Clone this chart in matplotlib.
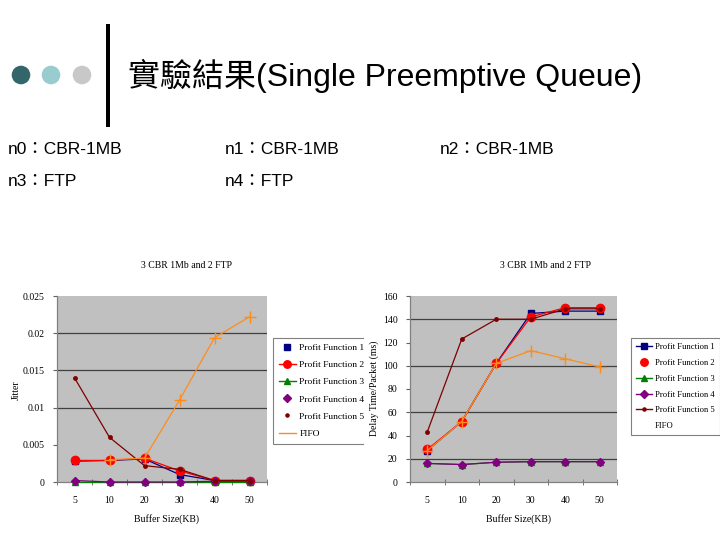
import numpy as np
import matplotlib
matplotlib.use("Agg")
import matplotlib.pyplot as plt
from matplotlib.lines import Line2D
from matplotlib.patches import Circle, Rectangle

# ---------------- data ----------------
buffer_labels = ['5', '10', '20', '30', '40', '50']
series_names = ['Profit Function 1', 'Profit Function 2', 'Profit Function 3',
                'Profit Function 4', 'Profit Function 5', 'FIFO']

jitter_pf1 = [0.0028, 0.0029, 0.0031, 0.0010, 0.0002, 0.0002]
jitter_pf2 = [0.0029, 0.0029, 0.0032, 0.0015, 0.0002, 0.0002]
jitter_pf3 = [0.0000, 0.0000, 0.0000, 0.0000, 0.0000, 0.0000]
jitter_pf4 = [0.0002, 0.0000, 0.0000, 0.0000, 0.0001, 0.0001]
jitter_pf5 = [0.0140, 0.0060, 0.0022, 0.0017, 0.0002, 0.0002]
jitter_fifo = [np.nan, 0.0030, 0.0032, 0.0110, 0.0194, 0.0222]

delay_pf1 = [27, 52, 102, 145, 147, 147]
delay_pf2 = [28, 52, 102, 142, 150, 150]
delay_pf3 = [16, 15, 17, 17.5, 17.5, 17.5]
delay_pf4 = [16, 15, 17, 17.5, 17.5, 17.5]
delay_pf5 = [43, 123, 140, 140, 149, 149]
delay_fifo = [27, 52, 102, 113, 106, 99]

jitter_ticks = [0, 0.005, 0.01, 0.015, 0.02, 0.025]
jitter_ticklabels = ['0', '0.005', '0.01', '0.015', '0.02', '0.025']
delay_ticks = [0, 20, 40, 60, 80, 100, 120, 140, 160]

chart_title = '3 CBR 1Mb and 2 FTP'
x_label = 'Buffer Size(KB)'
slide_title = '實驗結果(Single Preemptive Queue)'
node_lines = [['n0：CBR-1MB', 'n1：CBR-1MB', 'n2：CBR-1MB'],
              ['n3：FTP', 'n4：FTP']]

# ---------------- styles ----------------
W, H = 720, 540
colors = ['#000080', '#FF0000', '#008000', '#800080', '#800000', '#FF8C1A']
markers = ['s', 'o', '^', 'D', 'o', '+']
msizes = [4.5, 6, 5, 4.5, 2.5, 9]
SERIF = 'Liberation Serif'

fig = plt.figure(figsize=(W / 100, H / 100), dpi=100)
fig.patch.set_facecolor('white')


def box(l, t, r, b):
    return [l / W, 1 - b / H, (r - l) / W, (b - t) / H]


# slide decoration layer
deco = fig.add_axes([0, 0, 1, 1], zorder=0)
deco.set_xlim(0, W)
deco.set_ylim(H, 0)
deco.axis('off')
for cx, c in zip([21, 51, 82], ['#33666A', '#99CCCE', '#C8C8C8']):
    deco.add_patch(Circle((cx, 75), 9.3, color=c, lw=0))
deco.add_patch(Rectangle((106, 24), 4, 103, color='black', lw=0))
deco.text(128, 76, slide_title, fontsize=23, va='center', ha='left',
          family=['Liberation Sans', 'Noto Sans CJK TC'])
row_y = [150, 182]
col_x = [8, 225, 440]
for ry, row in zip(row_y, node_lines):
    for cx, t in zip(col_x, row):
        deco.text(cx, ry, t, fontsize=12.5, va='center', ha='left',
                  family=['Liberation Sans', 'Noto Sans CJK TC'])


def style_axes(ax, ticks, ticklabels, ylim):
    ax.set_facecolor('#C0C0C0')
    x = np.arange(len(buffer_labels))
    ax.set_xlim(-0.5, len(buffer_labels) - 0.5)
    ax.set_ylim(*ylim)
    ax.set_xticks(x)
    ax.set_xticklabels(buffer_labels, family=SERIF, fontsize=7)
    ax.set_xticks(np.arange(len(buffer_labels) + 1) - 0.5, minor=True)
    ax.tick_params(axis='x', which='major', length=0, pad=10)
    ax.tick_params(axis='x', which='minor', length=4, direction='inout', color='#606060')
    ax.set_yticks(ticks)
    ax.set_yticklabels(ticklabels, family=SERIF, fontsize=7)
    ax.tick_params(axis='y', length=3, direction='out', color='#606060', pad=6)
    for s in ['top', 'right']:
        ax.spines[s].set_visible(False)
    for s in ['left', 'bottom']:
        ax.spines[s].set_color('#808080')
        ax.spines[s].set_linewidth(0.9)
    return x


def legend_handles(show_line, show_marker):
    hs = []
    for i in range(6):
        hs.append(Line2D([], [], color=colors[i],
                         linestyle='-' if show_line[i] else 'none',
                         marker=markers[i] if show_marker[i] else 'none',
                         markersize=msizes[i] * 0.9, lw=1.0,
                         markeredgewidth=1.0))
    return hs


def add_legend(ax, left_px, handles, size):
    leg = ax.legend(handles, series_names, loc='upper left',
                    bbox_to_anchor=(left_px / W, 1 - 338 / H),
                    bbox_transform=fig.transFigure,
                    prop={'family': SERIF, 'size': size},
                    frameon=True, fancybox=False, framealpha=1,
                    edgecolor='#808080', borderpad=0.6, labelspacing=0.9,
                    handlelength=1.8, handletextpad=0.4, borderaxespad=0)
    leg.get_frame().set_linewidth(0.8)
    return leg


# ---------------- left chart ----------------
axL = fig.add_axes(box(57, 296, 267, 482), zorder=1)
xL = style_axes(axL, jitter_ticks, jitter_ticklabels, (0, 0.025))
for gy in jitter_ticks[2:5]:
    axL.axhline(gy, color='#404040', lw=0.9, zorder=0.5)
jitter_series = [jitter_pf1, jitter_pf2, jitter_pf3, jitter_pf4, jitter_pf5, jitter_fifo]
for i, ys in enumerate(jitter_series):
    axL.plot(xL, ys, color=colors[i], marker=markers[i], markersize=msizes[i],
             lw=0.9, markeredgewidth=1.0, clip_on=False, zorder=2 + i)
add_legend(axL, 273, legend_handles([False, True, True, False, False, True],
                                    [True, True, True, True, True, False]), 6.8)
fig.text(186 / W, 1 - 265 / H, chart_title, family=SERIF, fontsize=7,
         ha='center', va='center')
fig.text(166 / W, 1 - 519 / H, x_label, family=SERIF, fontsize=7,
         ha='center', va='center')
fig.text(16 / W, 1 - 390 / H, 'Jitter', family=SERIF, fontsize=7,
         ha='center', va='center', rotation=90)

# white cover for right chart area
cover = fig.add_axes(box(364, 240, 720, 540), zorder=2)
cover.set_facecolor('white')
cover.axis('off')
cover.add_patch(Rectangle((0, 0), 1, 1, transform=cover.transAxes,
                          color='white', lw=0))

# ---------------- right chart ----------------
axR = fig.add_axes(box(410, 296, 617, 482), zorder=3)
xR = style_axes(axR, delay_ticks, [str(t) for t in delay_ticks], (0, 160))
for gy in delay_ticks[1:8:2]:
    axR.axhline(gy, color='#404040', lw=0.9, zorder=0.5)
delay_series = [delay_pf1, delay_pf2, delay_pf3, delay_pf4, delay_pf5, delay_fifo]
for i, ys in enumerate(delay_series):
    axR.plot(xR, ys, color=colors[i], marker=markers[i], markersize=msizes[i],
             lw=0.9, markeredgewidth=1.0, clip_on=False, zorder=2 + i)
add_legend(axR, 631, legend_handles([True, False, True, True, True, False],
                                    [True, True, True, True, True, False]), 6.2)
fig.text(545 / W, 1 - 265 / H, chart_title, family=SERIF, fontsize=7,
         ha='center', va='center', zorder=5)
fig.text(518 / W, 1 - 519 / H, x_label, family=SERIF, fontsize=7,
         ha='center', va='center', zorder=5)
fig.text(374 / W, 1 - 388 / H, 'Delay Time/Packet (ms)', family=SERIF,
         fontsize=7, ha='center', va='center', rotation=90, zorder=5)

fig.savefig('out.png', dpi=100, facecolor='white')
